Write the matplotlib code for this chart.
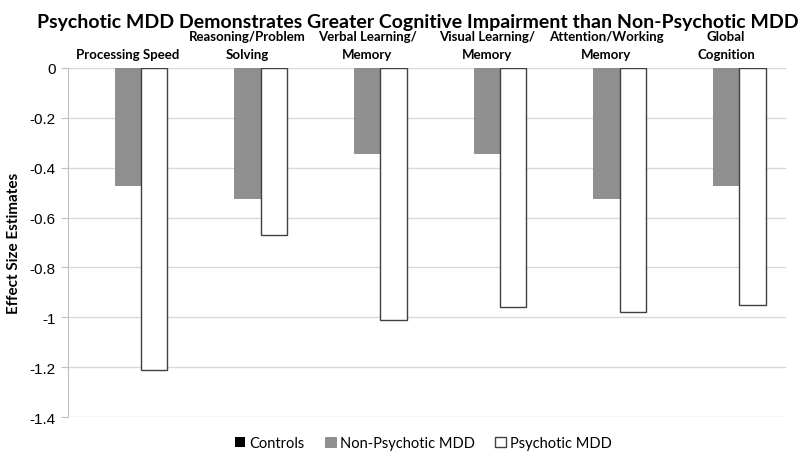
import matplotlib
matplotlib.use('Agg')
import matplotlib.pyplot as plt
import numpy as np

categories = ['Processing Speed', 'Reasoning/Problem\nSolving', 'Verbal Learning/\nMemory',
              'Visual Learning/\nMemory', 'Attention/Working\nMemory', 'Global\nCognition']
controls = [0, 0, 0, 0, 0, 0]
non_psychotic = [-0.47, -0.52, -0.34, -0.34, -0.52, -0.47]
psychotic = [-1.21, -0.67, -1.01, -0.96, -0.98, -0.95]
yticks = [0, -0.2, -0.4, -0.6, -0.8, -1, -1.2, -1.4]
ytick_labels = ['0', '-0.2', '-0.4', '-0.6', '-0.8', '-1', '-1.2', '-1.4']

fig = plt.figure(figsize=(8, 4.6), dpi=100)
ax = fig.add_axes([0.085, 0.0913, 0.8975, 0.7587])

x = np.arange(len(categories))
w = 0.22
ax.bar(x - w, controls, w, color='black', label='Controls')
ax.bar(x, non_psychotic, w, color='#8f8f8f', edgecolor='#858585', linewidth=0.6, label='Non-Psychotic MDD')
ax.bar(x + w, psychotic, w, color='white', edgecolor='#404040', linewidth=1.0, label='Psychotic MDD')

ax.set_xlim(-0.5, len(categories) - 0.5)
ax.set_ylim(-1.4, 0)
ax.set_yticks(yticks)
ax.set_yticklabels(ytick_labels, fontfamily='Liberation Sans', fontsize=11)
ax.grid(axis='y', color='#d9d9d9', linewidth=1)
ax.set_axisbelow(True)
for s in ['top', 'right', 'bottom']:
    ax.spines[s].set_visible(False)
ax.spines['left'].set_color('#bfbfbf')
ax.tick_params(axis='y', length=5, color='#bfbfbf', pad=4)

ax.xaxis.tick_top()
ax.set_xticks(x)
ax.set_xticklabels(categories, fontfamily='Lato', fontweight='bold', fontsize=9.5, linespacing=1.6)
ax.tick_params(axis='x', length=0, pad=6)

ax.set_ylabel('Effect Size Estimates', fontfamily='Lato', fontweight='bold', fontsize=11, labelpad=6)

fig.text(0.522, 0.952, 'Psychotic MDD Demonstrates Greater Cognitive Impairment than Non-Psychotic MDD',
         ha='center', va='center', fontfamily='Lato', fontweight='bold', fontsize=14)

ax.legend(loc='center', bbox_to_anchor=(0.495, -0.075), ncol=3, frameon=False,
          prop={'family': 'Lato', 'size': 10.5}, handlelength=0.7, handleheight=0.7,
          columnspacing=1.4, handletextpad=0.3)

fig.savefig('out.png', dpi=100)
